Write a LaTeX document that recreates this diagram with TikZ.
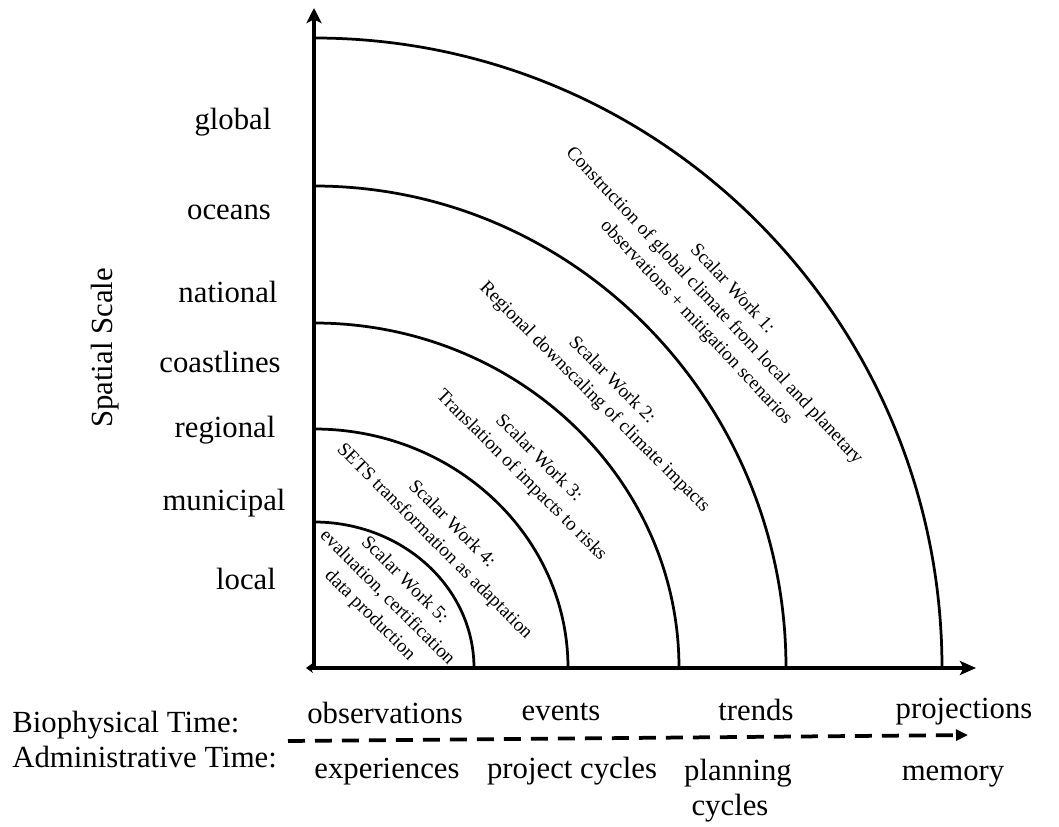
\documentclass[tikz,border=0pt]{standalone}
\usepackage{fontspec}
\setmainfont{Liberation Serif}
\usetikzlibrary{arrows.meta}
\begin{document}
\begin{tikzpicture}[x=0.02cm,y=0.02cm,
  big/.style={font=\fontsize{17.5}{20}\selectfont, inner sep=0pt},
  sw/.style={font=\fontsize{10.9}{14}\selectfont, align=center, rotate=-45, inner sep=0pt},
  axisline/.style={line width=0.08cm},
  ring/.style={line width=0.055cm},
  timeline/.style={line width=0.075cm, dash pattern=on 0.34cm off 0.2cm, -{Triangle[length=0.24cm,width=0.22cm]}}]
\useasboundingbox (0,0) rectangle (1059,826);
% axes
\coordinate (ybot) at (314,156);
\coordinate (ytop) at (314,818);
\coordinate (xleft) at (306,158);
\coordinate (xright) at (976,158);
\draw[axisline, -{Stealth[length=0.3cm,width=0.3cm,inset=0.07cm]}] (ybot) -- (ytop);
\draw[axisline, {Stealth[length=0.14cm,width=0.2cm]}-{Stealth[length=0.32cm,width=0.28cm,inset=0.07cm]}] (xleft) -- (xright);
% arcs
\draw[ring] (474,158) arc[start angle=0, end angle=90, x radius=160, y radius=146];
\draw[ring] (568,158) arc[start angle=0, end angle=90, x radius=254, y radius=239];
\draw[ring] (679,158) arc[start angle=0, end angle=90, x radius=365, y radius=345];
\draw[ring] (786,158) arc[start angle=0, end angle=90, x radius=472, y radius=482];
\draw[ring] (942,158) arc[start angle=0, end angle=90, x radius=628, y radius=630];
% scalar work labels
\node[sw, rotate=-2] (sw1) at (714,520) {Scalar Work 1:\\Construction of global climate from local and planetary\\observations + mitigation scenarios};
\node[sw] (sw2) at (603,437) {Scalar Work 2:\\Regional downscaling of climate impacts};
\node[sw] (sw3) at (530,359) {Scalar Work 3:\\Translation of impacts to risks};
\node[sw] (sw4) at (443,293) {Scalar Work 4:\\SETS transformation as adaptation};
\node[sw] (sw5) at (387,228) {Scalar Work 5:\\evaluation, certification\\data production};
% spatial scale
\node[big, rotate=90, anchor=base] (spatial) at (112,478) {Spatial Scale};
\node[big, anchor=base] (global) at (233,696) {global};
\node[big, anchor=base] (oceans) at (229,606) {oceans};
\node[big, anchor=base] (national) at (228,523) {national};
\node[big, anchor=base] (coast) at (220,453) {coastlines};
\node[big, anchor=base] (regional) at (225,388) {regional};
\node[big, anchor=base] (municipal) at (224,316) {municipal};
\node[big, anchor=base] (local) at (246,236) {local};
% time
\node[big, anchor=base west] (bio) at (12,94) {Biophysical Time:};
\node[big, anchor=base west] (adm) at (12,59) {Administrative Time:};
\node[big, anchor=base] (obs) at (385,103) {observations};
\node[big, anchor=base] (events) at (561,106) {events};
\node[big, anchor=base] (trends) at (756,106) {trends};
\node[big, anchor=base] (proj) at (964,108) {projections};
\node[big, anchor=base] (exp) at (387,48) {experiences};
\node[big, anchor=base] (pc) at (572,48) {project cycles};
\node[big, anchor=base] (plan) at (738,46) {planning};
\node[big, anchor=base] (cyc) at (730,11) {cycles};
\node[big, anchor=base] (mem) at (953,46) {memory};
\coordinate (tstart) at (288,85);
\coordinate (tend) at (968,91);
\draw[timeline] (tstart) -- (tend);
\end{tikzpicture}
\end{document}
